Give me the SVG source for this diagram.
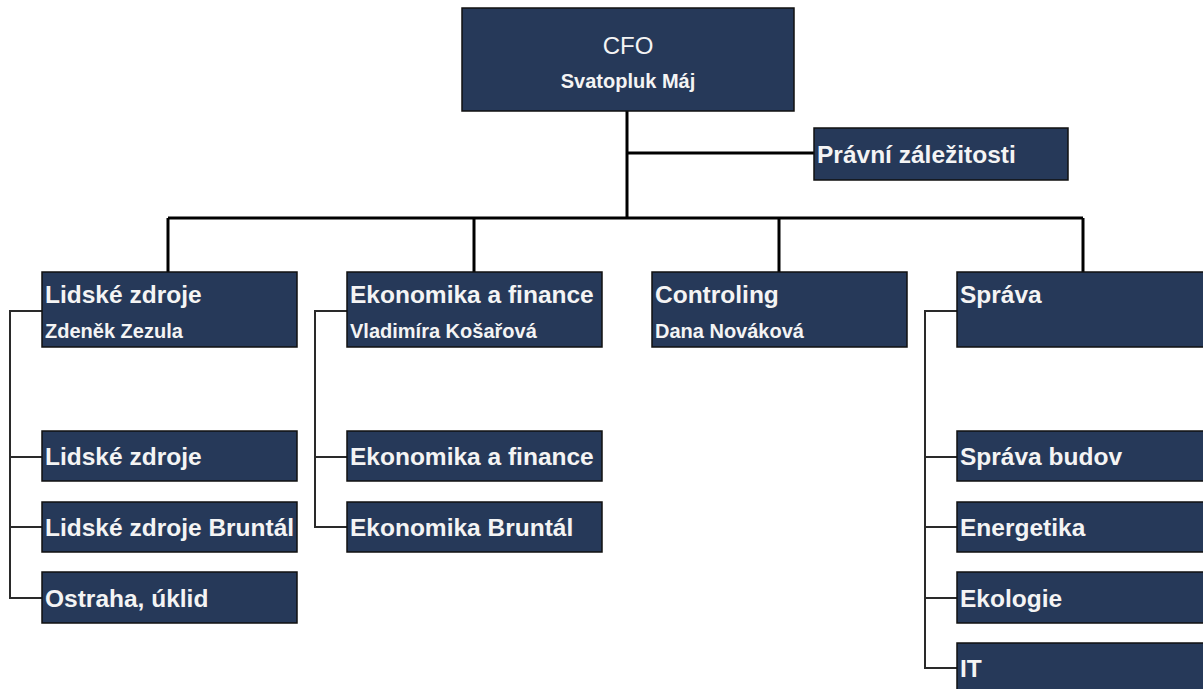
<svg xmlns="http://www.w3.org/2000/svg" width="1203" height="689" viewBox="0 0 1203 689">
  <style>
    .box { fill: #263959; stroke: #111; stroke-width: 1.5; }
    .t { font-family: "Liberation Sans", Arial, sans-serif; fill: #f4f4f4; font-weight: bold; font-size: 24.5px; }
    .s { font-family: "Liberation Sans", Arial, sans-serif; fill: #f4f4f4; font-weight: bold; font-size: 20px; }
    .main { stroke: #000; stroke-width: 3; fill: none; }
    .sub { stroke: #2a2a2a; stroke-width: 2; fill: none; }
  </style>
  <rect width="1203" height="689" fill="#fff"/>

  <!-- connectors -->
  <g id="connectors">
    <path class="main" d="M627 111 V218 M627 153 H814 M168 218 H1083 M168 218 V272 M474 218 V272 M779 218 V272 M1083 218 V272"/>
    <path class="sub" d="M42 311 H10 V598 H42 M10 457 H42 M10 527 H42"/>
    <path class="sub" d="M347 311 H315 V527 H347 M315 457 H347"/>
    <path class="sub" d="M957 311 H925 V668 H957 M925 457 H957 M925 527 H957 M925 598 H957"/>
  </g>

  <g id="cfo">
    <rect class="box" x="462" y="8" width="332" height="103"/>
    <text class="t" x="628" y="54" text-anchor="middle" font-weight="normal" style="font-weight:normal;font-size:24px">CFO</text>
    <text class="s" x="628" y="88" text-anchor="middle">Svatopluk Máj</text>
  </g>

  <g id="pravni">
    <rect class="box" x="814" y="128" width="254" height="52"/>
    <text class="t" x="817" y="163">Právní záležitosti</text>
  </g>

  <g id="lidske">
    <rect class="box" x="42" y="272" width="255" height="75"/>
    <text class="t" x="45" y="303">Lidské zdroje</text>
    <text class="s" x="45" y="338">Zdeněk Zezula</text>
  </g>
  <g id="lidske-1">
    <rect class="box" x="42" y="431" width="255" height="50"/>
    <text class="t" x="45" y="465">Lidské zdroje</text>
  </g>
  <g id="lidske-2">
    <rect class="box" x="42" y="502" width="255" height="50"/>
    <text class="t" x="45" y="536">Lidské zdroje Bruntál</text>
  </g>
  <g id="lidske-3">
    <rect class="box" x="42" y="572" width="255" height="51"/>
    <text class="t" x="45" y="607">Ostraha, úklid</text>
  </g>

  <g id="ekonomika">
    <rect class="box" x="347" y="272" width="255" height="75"/>
    <text class="t" x="350" y="303">Ekonomika a finance</text>
    <text class="s" x="350" y="338">Vladimíra Košařová</text>
  </g>
  <g id="ekonomika-1">
    <rect class="box" x="347" y="431" width="255" height="50"/>
    <text class="t" x="350" y="465">Ekonomika a finance</text>
  </g>
  <g id="ekonomika-2">
    <rect class="box" x="347" y="502" width="255" height="50"/>
    <text class="t" x="350" y="536">Ekonomika Bruntál</text>
  </g>

  <g id="controling">
    <rect class="box" x="652" y="272" width="255" height="75"/>
    <text class="t" x="655" y="303">Controling</text>
    <text class="s" x="655" y="338">Dana Nováková</text>
  </g>

  <g id="sprava">
    <rect class="box" x="957" y="272" width="255" height="75"/>
    <text class="t" x="960" y="303">Správa</text>
  </g>
  <g id="sprava-1">
    <rect class="box" x="957" y="431" width="255" height="50"/>
    <text class="t" x="960" y="465">Správa budov</text>
  </g>
  <g id="sprava-2">
    <rect class="box" x="957" y="502" width="255" height="50"/>
    <text class="t" x="960" y="536">Energetika</text>
  </g>
  <g id="sprava-3">
    <rect class="box" x="957" y="572" width="255" height="51"/>
    <text class="t" x="960" y="607">Ekologie</text>
  </g>
  <g id="sprava-4">
    <rect class="box" x="957" y="643" width="255" height="60"/>
    <text class="t" x="960" y="677">IT</text>
  </g>
</svg>
